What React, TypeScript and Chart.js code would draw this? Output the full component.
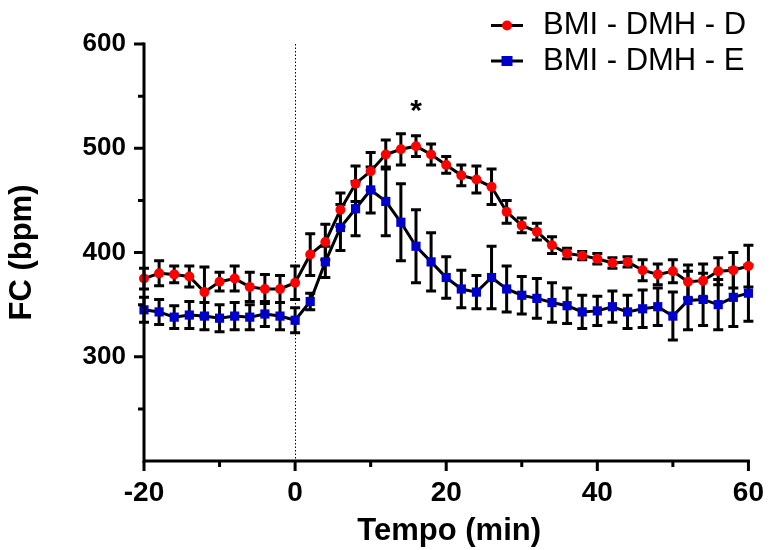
import React, { useEffect, useRef } from 'react';
import { Chart, registerables } from 'chart.js';

Chart.register(...registerables);

// ---------- DATA ----------
const TIMES = [-20, -18, -16, -14, -12, -10, -8, -6, -4, -2, 0, 2, 4, 6, 8, 10, 12, 14, 16, 18, 20, 22, 24, 26, 28, 30, 32, 34, 36, 38, 40, 42, 44, 46, 48, 50, 52, 54, 56, 58, 60];
const D_MEAN = [375, 380, 379, 377, 362, 372, 375, 367, 365, 365, 371, 398, 410, 441, 466, 478, 494, 499, 502, 494, 484, 474, 470, 463, 439, 426, 420, 407, 399, 397, 394, 390, 391, 383, 379, 382, 372, 373, 382, 383, 387];
const D_ERR = [10, 12, 8, 10, 24, 9, 12, 14, 14, 13, 16, 20, 17, 16, 17, 18, 14, 15, 10, 10, 8, 10, 13, 17, 11, 7, 8, 8, 5, 4, 5, 5, 5, 10, 10, 11, 16, 16, 13, 17, 20];
const E_MEAN = [345, 343, 338, 340, 339, 337, 339, 338, 341, 339, 335, 353, 391, 424, 442, 460, 449, 429, 406, 391, 376, 365, 362, 376, 365, 359, 356, 352, 349, 343, 344, 348, 343, 346, 348, 339, 354, 355, 350, 357, 361];
const E_ERR = [12, 12, 11, 13, 13, 13, 13, 12, 12, 13, 12, 8, 15, 22, 26, 22, 33, 37, 35, 28, 20, 18, 16, 30, 22, 18, 19, 19, 17, 16, 14, 15, 16, 18, 18, 23, 28, 25, 24, 28, 27];
const SERIES_LABELS = ['BMI - DMH - D', 'BMI - DMH - E'];
const X_TICKS = [-20, 0, 20, 40, 60];
const X_MINOR = [-10, 10, 30, 50];
const Y_TICKS = [300, 400, 500, 600];
const Y_MINOR = [250, 350, 450, 550];
const SIG_TIMES = [16];
const X_TITLE = 'Tempo (min)';
const Y_TITLE = 'FC (bpm)';

const FONT = '"Liberation Sans", Arial, Helvetica, sans-serif';
const RED = '#FF0000';
const BLUE = '#0000CC';

const customPlugin = {
  id: 'customDecor',
  beforeDatasetsDraw(chart: any) {
    const { ctx, chartArea, scales } = chart;
    const x = scales.x;
    const y = scales.y;
    ctx.save();
    // dotted reference line at t = 0
    const x0 = Math.round(x.getPixelForValue(0)) + 0.5;
    ctx.strokeStyle = '#000';
    ctx.lineWidth = 1;
    ctx.setLineDash([1.5, 2]);
    ctx.beginPath();
    ctx.moveTo(x0, chartArea.top);
    ctx.lineTo(x0, chartArea.bottom);
    ctx.stroke();
    ctx.setLineDash([]);
    // error bars
    ctx.lineWidth = 3;
    ctx.strokeStyle = '#000';
    const sets: [number[], number[]][] = [[E_MEAN, E_ERR], [D_MEAN, D_ERR]];
    sets.forEach(([m, e]) => {
      TIMES.forEach((t, i) => {
        const px = x.getPixelForValue(t);
        const top = y.getPixelForValue(m[i] + e[i]);
        const bot = y.getPixelForValue(m[i] - e[i]);
        ctx.beginPath();
        ctx.moveTo(px, top);
        ctx.lineTo(px, bot);
        ctx.moveTo(px - 5, top);
        ctx.lineTo(px + 5, top);
        ctx.moveTo(px - 5, bot);
        ctx.lineTo(px + 5, bot);
        ctx.stroke();
      });
    });
    ctx.restore();
  },
  afterDraw(chart: any) {
    const { ctx, chartArea, scales } = chart;
    const x = scales.x;
    const y = scales.y;
    const L = chartArea.left;
    const B = chartArea.bottom;
    ctx.save();
    ctx.strokeStyle = '#000';
    ctx.lineWidth = 3;
    ctx.lineCap = 'butt';
    // axis lines
    ctx.beginPath();
    ctx.moveTo(L, chartArea.top - 1.5);
    ctx.lineTo(L, B + 1.5);
    ctx.moveTo(L - 1.5, B);
    ctx.lineTo(chartArea.right + 1.5, B);
    ctx.stroke();
    // ticks
    ctx.beginPath();
    Y_TICKS.forEach((v) => {
      const py = y.getPixelForValue(v);
      ctx.moveTo(L - 10, py);
      ctx.lineTo(L, py);
    });
    Y_MINOR.forEach((v) => {
      const py = y.getPixelForValue(v);
      ctx.moveTo(L - 6, py);
      ctx.lineTo(L, py);
    });
    X_TICKS.forEach((v) => {
      const px = x.getPixelForValue(v);
      ctx.moveTo(px, B);
      ctx.lineTo(px, B + 10);
    });
    X_MINOR.forEach((v) => {
      const px = x.getPixelForValue(v);
      ctx.moveTo(px, B);
      ctx.lineTo(px, B + 6);
    });
    ctx.stroke();

    // axis titles
    ctx.fillStyle = '#000';
    ctx.font = `bold 31px ${FONT}`;
    ctx.textAlign = 'center';
    ctx.textBaseline = 'middle';
    ctx.fillText(X_TITLE, (chartArea.left + chartArea.right) / 2 + 3, 531);
    ctx.save();
    ctx.translate(22, (chartArea.top + chartArea.bottom) / 2);
    ctx.rotate(-Math.PI / 2);
    ctx.fillText(Y_TITLE, 0, 0);
    ctx.restore();

    // significance asterisk
    ctx.font = `bold 30px ${FONT}`;
    ctx.textBaseline = 'alphabetic';
    SIG_TIMES.forEach((t) => {
      const i = TIMES.indexOf(t);
      const px = x.getPixelForValue(t);
      const py = y.getPixelForValue(D_MEAN[i] + D_ERR[i]);
      ctx.fillText('*', px, py - 16);
    });

    // legend
    const rows = [25.5, 61];
    ctx.font = `31px ${FONT}`;
    ctx.textAlign = 'left';
    ctx.textBaseline = 'middle';
    rows.forEach((ry, k) => {
      ctx.strokeStyle = '#000';
      ctx.lineWidth = 3;
      ctx.beginPath();
      ctx.moveTo(491, ry);
      ctx.lineTo(523, ry);
      ctx.stroke();
      if (k === 0) {
        ctx.fillStyle = RED;
        ctx.beginPath();
        ctx.arc(507, ry, 5, 0, Math.PI * 2);
        ctx.fill();
      } else {
        ctx.fillStyle = BLUE;
        ctx.fillRect(507 - 5.5, ry - 5, 11, 10);
      }
      ctx.fillStyle = '#000';
      ctx.fillText(SERIES_LABELS[k], 543, ry);
    });
    ctx.restore();
  },
};

export default function App() {
  const canvasRef = useRef<HTMLCanvasElement | null>(null);

  useEffect(() => {
    const canvas = canvasRef.current;
    if (!canvas) return;
    const chart = new Chart(canvas, {
      type: 'line',
      data: {
        datasets: [
          {
            label: SERIES_LABELS[0],
            data: TIMES.map((t, i) => ({ x: t, y: D_MEAN[i] })),
            borderColor: '#000',
            borderWidth: 3,
            pointStyle: 'circle',
            pointRadius: 5,
            pointBorderWidth: 0,
            pointBackgroundColor: RED,
            pointBorderColor: RED,
            tension: 0,
            clip: false,
          } as any,
          {
            label: SERIES_LABELS[1],
            data: TIMES.map((t, i) => ({ x: t, y: E_MEAN[i] })),
            borderColor: '#000',
            borderWidth: 3,
            pointStyle: 'rect',
            pointRadius: 6.5,
            pointBorderWidth: 0,
            pointBackgroundColor: BLUE,
            pointBorderColor: BLUE,
            tension: 0,
            clip: false,
          } as any,
        ],
      },
      options: {
        animation: false,
        responsive: false,
        maintainAspectRatio: false,
        layout: { padding: { top: 44, right: 9, left: 0, bottom: 0 } },
        plugins: {
          legend: { display: false },
          tooltip: { enabled: false },
          title: { display: false },
        },
        scales: {
          x: {
            type: 'linear',
            min: -20,
            max: 60,
            afterBuildTicks: (s: any) => {
              s.ticks = X_TICKS.map((v) => ({ value: v }));
            },
            afterFit: (s: any) => {
              s.height = 89;
            },
            ticks: {
              padding: 7,
              color: '#000',
              maxRotation: 0,
              autoSkip: false,
              font: { family: FONT, size: 28, weight: 'bold' },
              callback: (v: any) => String(v),
            },
            grid: { display: false },
            border: { display: false },
          },
          y: {
            type: 'linear',
            min: 200,
            max: 600,
            afterBuildTicks: (s: any) => {
              s.ticks = Y_TICKS.map((v) => ({ value: v }));
            },
            afterFit: (s: any) => {
              s.width = 144;
            },
            ticks: {
              padding: 10,
              color: '#000',
              font: { family: FONT, size: 26, weight: 'bold' },
              callback: (v: any) => String(v),
            },
            grid: { display: false },
            border: { display: false },
          },
        },
      } as any,
      plugins: [customPlugin],
    });
    return () => chart.destroy();
  }, []);

  return (
    <div style={{ position: 'absolute', left: 0, top: 0, width: 771, height: 550, background: '#fff' }}>
      <canvas ref={canvasRef} width={771} height={550} style={{ display: 'block' }} />
    </div>
  );
}
